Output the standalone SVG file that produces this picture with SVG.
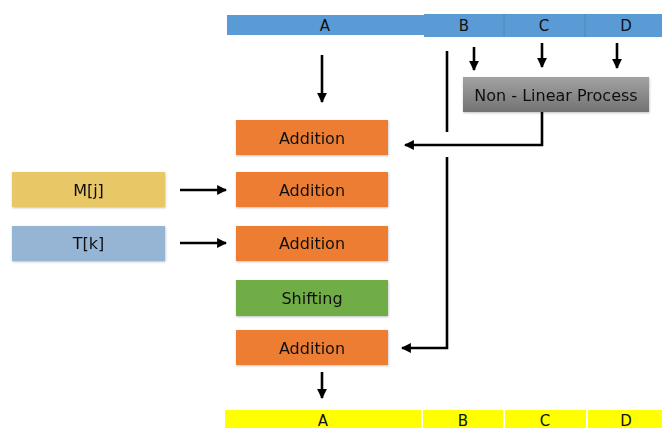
<svg xmlns="http://www.w3.org/2000/svg" width="662" height="428" viewBox="0 0 662 428">
  <defs>
    <marker id="arrow" viewBox="0 0 10 10" refX="9" refY="5" markerWidth="3.8" markerHeight="3.8" orient="auto" markerUnits="strokeWidth">
      <path d="M0,0 L10,5 L0,10 z" fill="#000"/>
    </marker>
    <linearGradient id="grey" x1="0" y1="0" x2="0" y2="1">
      <stop offset="0" stop-color="#a3a3a3"/>
      <stop offset="1" stop-color="#727272"/>
    </linearGradient>
    <filter id="shadow" x="-5%" y="-10%" width="110%" height="130%">
      <feDropShadow dx="0.5" dy="1" stdDeviation="1" flood-color="#000" flood-opacity="0.25"/>
    </filter>
  </defs>
  <style>
    text { font-family: "DejaVu Sans", "Liberation Sans", sans-serif; font-size: 16px; fill: #111; text-anchor: middle; dominant-baseline: central; }
    .bar text { font-size: 15px; }
    .box { filter: url(#shadow); }
    .add { fill: #ed7d31; }
    .wire { fill: none; stroke: #000; stroke-width: 2.6; }
    .arr { marker-end: url(#arrow); }
  </style>
  <rect width="662" height="428" fill="#fff"/>

  <!-- input word, split into fields -->
  <g id="input" class="bar">
    <rect x="227" y="15" width="197" height="20" fill="#5b9bd5"/>
    <rect x="424" y="14" width="80" height="23" fill="#5b9bd5"/>
    <rect x="504" y="14" width="81" height="23" fill="#5b9bd5"/>
    <rect x="585" y="14" width="77" height="23" fill="#5b9bd5"/>
    <line x1="504" y1="14" x2="504" y2="37" stroke="#4a86be" stroke-width="1"/>
    <line x1="585" y1="14" x2="585" y2="37" stroke="#4a86be" stroke-width="1"/>
    <text x="325" y="25.5">A</text>
    <text x="464" y="25.5">B</text>
    <text x="544" y="25.5">C</text>
    <text x="626" y="25.5">D</text>
  </g>

  <g id="nonlinear" class="box">
    <rect x="463" y="77" width="186" height="35" fill="url(#grey)"/>
    <text x="556" y="95">Non - Linear Process</text>
  </g>

  <g id="add1" class="box">
    <rect class="add" x="236" y="120" width="152" height="35"/>
    <text x="312" y="138">Addition</text>
  </g>
  <g id="mj" class="box">
    <rect x="12" y="172" width="153" height="35" fill="#e8c766"/>
    <text x="88.5" y="190">M[j]</text>
  </g>
  <g id="add2" class="box">
    <rect class="add" x="236" y="172" width="152" height="35"/>
    <text x="312" y="190">Addition</text>
  </g>
  <g id="tk" class="box">
    <rect x="12" y="226" width="153" height="35" fill="#96b5d5"/>
    <text x="88.5" y="243">T[k]</text>
  </g>
  <g id="add3" class="box">
    <rect class="add" x="236" y="226" width="152" height="35"/>
    <text x="312" y="243">Addition</text>
  </g>
  <g id="shift" class="box">
    <rect x="236" y="280" width="152" height="36" fill="#70ad47"/>
    <text x="312" y="298">Shifting</text>
  </g>
  <g id="add4" class="box">
    <rect class="add" x="236" y="330" width="152" height="35"/>
    <text x="312" y="348">Addition</text>
  </g>

  <!-- output word -->
  <g id="output" class="bar">
    <rect x="225" y="410" width="196" height="18" fill="#ffff00"/>
    <rect x="423" y="410" width="80" height="18" fill="#ffff00"/>
    <rect x="505" y="410" width="81" height="18" fill="#ffff00"/>
    <rect x="588" y="410" width="74" height="18" fill="#ffff00"/>
    <text x="323" y="421">A</text>
    <text x="463" y="421">B</text>
    <text x="545" y="421">C</text>
    <text x="626" y="421">D</text>
  </g>

  <g id="connectors">
    <line class="wire arr" x1="322" y1="55" x2="322" y2="102"/>
    <line class="wire" x1="447" y1="51" x2="447" y2="132"/>
    <line class="wire arr" x1="474" y1="47" x2="474" y2="70"/>
    <line class="wire arr" x1="542" y1="43" x2="542" y2="67"/>
    <line class="wire arr" x1="617" y1="43" x2="617" y2="68"/>
    <polyline class="wire arr" points="542,112 542,145 405,145"/>
    <line class="wire arr" x1="180" y1="190" x2="226" y2="190"/>
    <line class="wire arr" x1="180" y1="243" x2="226" y2="243"/>
    <polyline class="wire arr" points="447,157 447,348 402,348"/>
    <line class="wire arr" x1="322" y1="372" x2="322" y2="398"/>
  </g>
</svg>
